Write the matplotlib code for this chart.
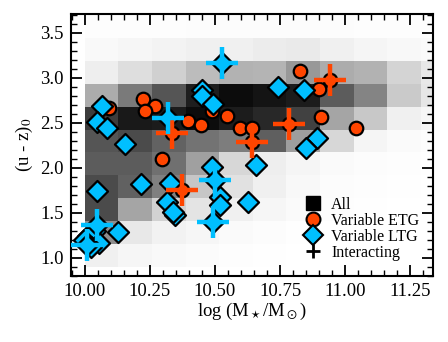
import numpy as np
import matplotlib
matplotlib.use("Agg")
import matplotlib.pyplot as plt
from matplotlib.lines import Line2D

plt.rcParams['font.family'] = ['Liberation Serif', 'DejaVu Serif']
plt.rcParams['mathtext.fontset'] = 'stix'

# background density of all galaxies (0 = empty, 1 = densest), rows bottom -> top
x_edges = 10.0 + 0.129 * np.arange(12)
y_edges = 0.9 + 0.2545 * np.arange(12)
gray = np.array([
    [240, 246, 249, 251, 253, 254, 255, 255, 255, 255, 255],
    [140, 232, 242, 246, 250, 252, 254, 255, 255, 255, 255],
    [75, 165, 210, 228, 240, 246, 250, 253, 254, 255, 255],
    [75, 97, 128, 198, 225, 240, 248, 252, 253, 254, 255],
    [92, 92, 112, 160, 215, 238, 245, 250, 252, 253, 254],
    [85, 75, 98, 115, 125, 95, 158, 215, 245, 250, 252],
    [60, 25, 28, 12, 28, 40, 65, 165, 200, 240, 246],
    [172, 122, 85, 30, 12, 20, 28, 92, 132, 202, 230],
    [238, 222, 208, 188, 178, 180, 152, 172, 178, 212, 232],
    [249, 246, 243, 240, 240, 236, 234, 240, 245, 248, 250],
    [253, 253, 253, 252, 252, 252, 252, 252, 253, 253, 253],
])
density = 1 - gray / 255.0

# variable early-type galaxies
etg_mass = [10.093, 10.224, 10.269, 10.231, 10.395, 10.445, 10.487, 10.545, 10.596,
            10.641, 10.295, 10.827, 10.901, 10.906, 11.041,
            10.333, 10.641, 10.942, 10.786, 10.372]
etg_col = [2.663, 2.763, 2.689, 2.633, 2.526, 2.481, 2.633, 2.578, 2.448,
           2.441, 2.097, 3.081, 2.874, 2.563, 2.448,
           2.386, 2.292, 2.978, 2.486, 1.756]
etg_inter = [0] * 15 + [1] * 5

# variable late-type galaxies
ltg_mass = [10.067, 10.045, 10.087, 10.155, 10.451, 10.451, 10.493, 10.743, 10.843,
            10.891, 10.851, 10.487, 10.656, 10.045, 10.215, 10.327, 10.314, 10.348,
            10.337, 10.521, 10.519, 10.628, 10.128, 10.012, 10.038, 10.054, 10.023,
            9.996,
            10.526, 10.320, 10.500, 10.493, 10.045, 10.007]
ltg_col = [2.689, 2.508, 2.441, 2.261, 2.867, 2.794, 2.711, 2.903, 2.867,
           2.330, 2.219, 2.014, 2.028, 1.747, 1.820, 1.830, 1.626, 1.483,
           1.511, 1.681, 1.589, 1.626, 1.292, 1.244, 1.300, 1.167, 1.122,
           1.200,
           3.163, 2.552, 1.867, 1.403, 1.367, 1.144]
ltg_inter = [0] * 28 + [1] * 6

orange = '#FF4500'
blue = '#00BFFF'

fig = plt.figure(figsize=(4.48, 3.42), dpi=100)
ax = fig.add_axes([0.158, 0.193, 0.809, 0.766])

ax.pcolormesh(x_edges, y_edges, density, cmap='gray_r', vmin=0, vmax=1, zorder=0)

ax.scatter(etg_mass, etg_col, s=95, marker='o', c=orange, edgecolors='k',
           linewidths=1.6, zorder=3)
ax.scatter(ltg_mass, ltg_col, s=115, marker='D', c=blue, edgecolors='k',
           linewidths=1.6, zorder=4)

ex = [m for m, f in zip(etg_mass, etg_inter) if f]
ey = [c for c, f in zip(etg_col, etg_inter) if f]
lx = [m for m, f in zip(ltg_mass, ltg_inter) if f]
ly = [c for c, f in zip(ltg_col, ltg_inter) if f]
ax.plot(ex, ey, '+', ms=23, mew=3.2, color=orange, ls='none', zorder=5)
ax.plot(lx, ly, '+', ms=23, mew=3.2, color=blue, ls='none', zorder=5)

ax.set_xlim(9.946, 11.338)
ax.set_ylim(0.8, 3.71)
ax.set_xticks([10.0, 10.25, 10.5, 10.75, 11.0, 11.25])
ax.set_yticks([1.0, 1.5, 2.0, 2.5, 3.0, 3.5])
ax.xaxis.set_major_formatter(matplotlib.ticker.FormatStrFormatter('%.2f'))
ax.yaxis.set_major_formatter(matplotlib.ticker.FormatStrFormatter('%.1f'))
ax.xaxis.set_minor_locator(matplotlib.ticker.MultipleLocator(0.05))
ax.yaxis.set_minor_locator(matplotlib.ticker.MultipleLocator(0.1))
ax.tick_params(which='both', direction='in', top=True, right=True, labelsize=13.5)
ax.tick_params(which='major', length=8, width=1.3, pad=5)
ax.tick_params(which='minor', length=4, width=1.0)
for s in ax.spines.values():
    s.set_linewidth(1.5)

ax.set_xlabel(r'log (M$_\star$/M$_\odot$)', fontsize=13.5, labelpad=1)
ax.set_ylabel(r'(u - z)$_0$', fontsize=13.5, labelpad=4)

handles = [
    Line2D([], [], marker='s', color='k', ls='none', ms=10),
    Line2D([], [], marker='o', mfc=orange, mec='k', mew=1.5, ls='none', ms=10),
    Line2D([], [], marker='D', mfc=blue, mec='k', mew=1.5, ls='none', ms=10),
    Line2D([], [], marker='+', color='k', mew=2, ls='none', ms=10),
]
ax.legend(handles, ['All', 'Variable ETG', 'Variable LTG', 'Interacting'],
          loc='lower right', bbox_to_anchor=(0.988, 0.022), frameon=False,
          fontsize=11.5, handletextpad=0.55, labelspacing=0.0,
          handlelength=1.2, borderaxespad=0.2)

fig.savefig('out.png', dpi=100)
